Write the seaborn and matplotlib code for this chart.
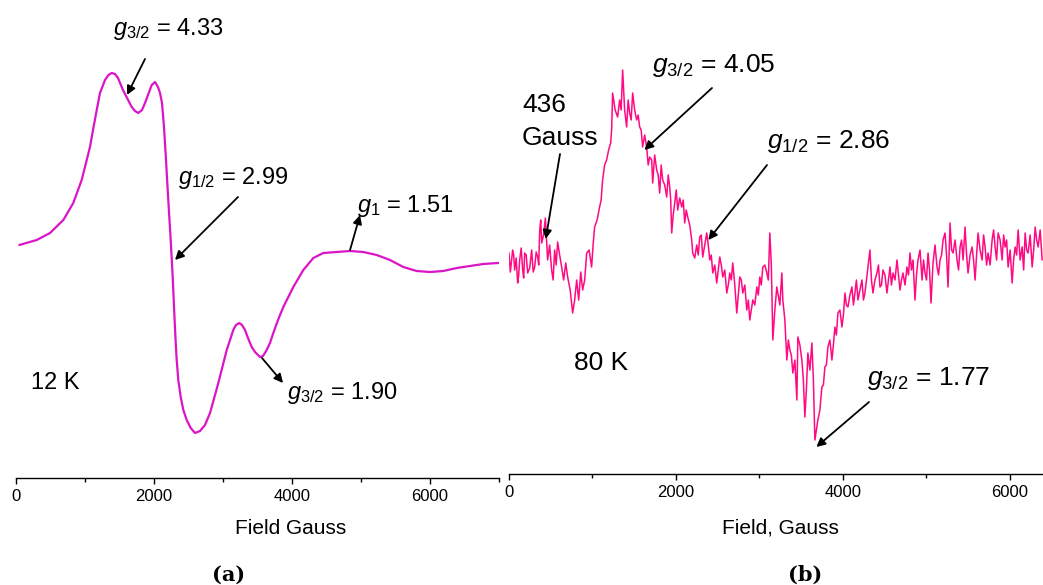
import matplotlib
matplotlib.use("Agg")
import matplotlib.pyplot as plt
import seaborn as sns
from matplotlib.ticker import MultipleLocator

# ---------------- data ----------------
# (a) 12 K spectrum: field (Gauss) and EPR signal (a.u.)
field_12K = [48, 300, 493, 686, 830, 952, 1014, 1072, 1116, 1170, 1217, 1290, 1340, 1387,
             1435, 1478, 1551, 1610, 1677, 1725, 1772, 1826, 1870, 1913, 1967, 2014, 2058,
             2087, 2116, 2145, 2174, 2207, 2242, 2271, 2294, 2315, 2329, 2352, 2387, 2425,
             2474, 2532, 2594, 2667, 2739, 2812, 2932, 3054, 3149, 3188, 3236, 3275, 3319,
             3362, 3416, 3464, 3536, 3580, 3633, 3681, 3729, 3797, 3874, 4019, 4164, 4309,
             4454, 4648, 4841, 5033, 5228, 5420, 5613, 5807, 6000, 6193, 6387, 6580, 6772,
             6990]
signal_12K = [5, 10, 17, 30, 47, 70, 87, 103, 120, 140, 157, 170, 175, 177,
              176, 172, 160, 152, 143, 139, 137, 140, 147, 155, 165, 168, 163,
              157, 147, 123, 90, 50, 10, -27, -63, -93, -110, -130, -147, -160,
              -170, -178, -183, -181, -175, -163, -133, -100, -80, -75, -73, -75, -80,
              -88, -97, -102, -107, -106, -100, -93, -83, -70, -57, -37, -20, -8,
              -3, -2, -1, -2, -5, -10, -17, -21, -22, -21, -18, -16, -14,
              -13]

# (b) 80 K spectrum: field (Gauss) and EPR signal (a.u.)
field_80K = [0, 16, 32, 44, 56, 68, 86, 104, 116, 128, 146, 164, 176, 188, 206, 224, 248,
             272, 290, 308, 326, 344, 356, 368, 380, 392, 414, 436, 450, 463, 487, 511,
             529, 547, 565, 583, 607, 631, 655, 680, 703, 733, 763, 787, 811, 835, 860,
             883, 907, 931, 960, 990, 1008, 1026, 1056, 1086, 1104, 1122, 1146, 1170,
             1194, 1218, 1230, 1242, 1272, 1302, 1326, 1344, 1362, 1386, 1410, 1428,
             1446, 1464, 1482, 1506, 1530, 1548, 1566, 1584, 1602, 1626, 1650, 1668,
             1686, 1710, 1722, 1746, 1770, 1788, 1806, 1824, 1842, 1866, 1890, 1908,
             1926, 1938, 1950, 1968, 1986, 2004, 2022, 2046, 2070, 2088, 2106, 2124,
             2142, 2166, 2190, 2202, 2226, 2250, 2268, 2286, 2304, 2322, 2346, 2370,
             2388, 2406, 2424, 2442, 2466, 2490, 2508, 2526, 2544, 2562, 2586, 2610,
             2628, 2646, 2664, 2682, 2706, 2730, 2748, 2766, 2784, 2802, 2826, 2850,
             2868, 2886, 2904, 2922, 2946, 2970, 2988, 3006, 3024, 3042, 3066, 3090,
             3108, 3126, 3144, 3162, 3186, 3210, 3222, 3246, 3270, 3282, 3306, 3330,
             3348, 3366, 3384, 3402, 3426, 3450, 3462, 3486, 3510, 3528, 3546, 3564,
             3582, 3606, 3630, 3648, 3666, 3684, 3702, 3726, 3750, 3768, 3786, 3804,
             3822, 3846, 3870, 3888, 3906, 3924, 3942, 3966, 3990, 4008, 4026, 4044,
             4062, 4086, 4110, 4128, 4146, 4164, 4182, 4206, 4230, 4248, 4266, 4284,
             4302, 4326, 4344, 4362, 4386, 4410, 4428, 4446, 4464, 4482, 4506, 4530,
             4548, 4566, 4584, 4602, 4626, 4650, 4668, 4686, 4704, 4722, 4746, 4770,
             4788, 4806, 4824, 4842, 4866, 4884, 4902, 4926, 4950, 4968, 4986, 5004,
             5022, 5040, 5058, 5082, 5106, 5130, 5148, 5166, 5184, 5202, 5226, 5244,
             5262, 5286, 5304, 5322, 5346, 5370, 5388, 5406, 5424, 5442, 5466, 5484,
             5502, 5526, 5550, 5568, 5586, 5604, 5622, 5646, 5670, 5688, 5706, 5724,
             5742, 5766, 5790, 5808, 5826, 5844, 5862, 5886, 5910, 5928, 5946, 5964,
             5982, 6006, 6030, 6048, 6066, 6084, 6102, 6126, 6150, 6168, 6186, 6204,
             6222, 6246, 6270, 6288, 6306, 6324, 6342, 6366, 6390]
signal_80K = [7, -12, 0, 10, 5, -10, 2, -23, -15, 0, 12, -10, -18, 7, 5, -13, -8,
              10, -12, -7, 8, 3, -5, 30, 40, 17, 25, 42, 20, 0, 15, -10,
              -20, 10, -5, 18, 5, -7, -20, -3, -17, -30, -53, -40, -20, -40, -12,
              -30, -20, 7, 10, -7, 15, 33, 40, 53, 60, 80, 95, 100,
              110, 117, 130, 167, 150, 143, 160, 150, 190, 150, 133, 160,
              147, 140, 167, 150, 140, 145, 133, 130, 113, 125, 113, 95,
              103, 100, 77, 105, 90, 85, 67, 95, 80, 75, 63, 85,
              73, 60, 27, 45, 57, 70, 50, 62, 53, 60, 37, 50,
              43, 35, 20, 7, 2, 15, 5, 23, 25, 3, 15, 27,
              15, 0, 5, -13, -5, -23, -10, 3, -5, -17, -10, -33,
              -25, -13, -20, -3, -25, -53, -35, -17, -20, -33, -25, -50,
              -40, -60, -50, -40, -45, -27, -35, -17, -25, -7, -5, -13,
              -20, 27, -5, -80, -50, -27, -33, -45, -13, -40, -60, -100,
              -80, -90, -95, -113, -100, -140, -77, -85, -100, -120, -157, -130,
              -93, -110, -83, -120, -180, -170, -160, -150, -127, -125, -107, -105,
              -87, -80, -100, -85, -67, -75, -53, -50, -67, -55, -33, -45,
              -47, -35, -27, -45, -33, -20, -40, -30, -20, -40, -33, -20,
              -7, 10, -20, -33, -20, -13, -5, -27, -25, -10, -15, -33,
              -20, -7, -25, -13, -20, 0, -15, -30, -20, -13, -25, -7,
              -15, 7, -10, 0, -40, -15, 0, 10, -20, 0, -13, -20,
              7, -10, -43, -3, 15, -7, -15, 0, 5, 20, 27, 5,
              -27, 37, 10, 7, 20, 0, -10, 13, 20, 0, 33, 5,
              -13, 5, 13, 0, -20, 5, 27, 10, 0, 25, 13, -5,
              7, -5, 20, 30, 13, 0, 27, 20, 0, 25, 13, 20,
              -7, 10, -23, 0, 13, 5, 30, 0, 13, -10, 27, 10,
              7, 25, -7, 10, 33, 20, 13, 30, 0]

xticks_major = [0, 2000, 4000, 6000]

# ---------------- figure ----------------
W, H = 1043, 585
sns.set_style("ticks")
plt.rcParams["font.family"] = ["Liberation Sans", "DejaVu Sans"]
plt.rcParams["mathtext.fontset"] = "custom"
plt.rcParams["mathtext.it"] = "Liberation Sans:italic"
plt.rcParams["mathtext.rm"] = "Liberation Sans"
plt.rcParams["text.color"] = "black"
plt.rcParams["axes.labelcolor"] = "black"
plt.rcParams["xtick.color"] = "black"
plt.rcParams["lines.solid_joinstyle"] = "round"

fig = plt.figure(figsize=(W / 100, H / 100), dpi=100)
fig.patch.set_facecolor("white")


def fx(px):
    return px / W


def fy(py):
    return 1 - py / H


ax_a = fig.add_axes([16 / W, (H - 478) / H, 483 / W, 478 / H])
ax_b = fig.add_axes([509 / W, (H - 473.5) / H, 534 / W, 473.5 / H])

sns.lineplot(x=field_12K, y=signal_12K, ax=ax_a, color="#DC14C8", linewidth=1.6,
             sort=False, estimator=None)
sns.lineplot(x=field_80K, y=signal_80K, ax=ax_b, color="#FF0A82", linewidth=1.1,
             sort=False, estimator=None)

ax_a.set_xlim(0, 7000)
ax_a.set_ylim(-228, 250)
ax_b.set_xlim(0, 6400)
ax_b.set_ylim(-213.5, 260)

for ax in (ax_a, ax_b):
    ax.set_facecolor("none")
    for s in ("left", "top", "right"):
        ax.spines[s].set_visible(False)
    ax.spines["bottom"].set_color("black")
    ax.spines["bottom"].set_linewidth(1.0)
    ax.set_yticks([])
    ax.set_ylabel("")
    ax.set_xticks(xticks_major)
    ax.set_xticklabels([str(t) for t in xticks_major])
    ax.xaxis.set_minor_locator(MultipleLocator(1000))
    ax.tick_params(axis="x", which="major", length=4, width=1.0, color="black",
                   direction="out", labelsize=12, pad=4, labelcolor="black")
    ax.tick_params(axis="x", which="minor", length=3, width=1.0, color="black",
                   direction="out")

ax_a.set_xlabel("Field Gauss", fontsize=15)
ax_a.xaxis.set_label_coords((291 - 16) / 483, -(519 - 478) / 478)
ax_b.set_xlabel("Field, Gauss", fontsize=15)
ax_b.xaxis.set_label_coords((780 - 509) / 534, -(519 - 473.5) / 473.5)

arrow = dict(arrowstyle="-|>", color="black", lw=1.3, mutation_scale=13,
             shrinkA=0, shrinkB=0)

# ---- panel (a) annotations ----
fs_a = 17
fig.text(fx(113), fy(35), r"$\mathit{g}_{\mathit{3/2}}$ = 4.33", fontsize=fs_a, va="baseline")
ax_a.annotate("", xy=(1609, 155), xycoords="data", xytext=(fx(145), fy(59)),
              textcoords="figure fraction", arrowprops=arrow)

fig.text(fx(178), fy(184), r"$\mathit{g}_{\mathit{1/2}}$ = 2.99", fontsize=fs_a, va="baseline")
ax_a.annotate("", xy=(2304, -10), xycoords="data", xytext=(fx(238), fy(197)),
              textcoords="figure fraction", arrowprops=arrow)

fig.text(fx(357), fy(212), r"$\mathit{g}_{\mathit{1}}$ = 1.51", fontsize=fs_a, va="baseline")
ax_a.annotate("", xy=(4986, 35), xycoords="data", xytext=(4841, 0),
              textcoords="data", arrowprops=arrow)

fig.text(fx(287), fy(399), r"$\mathit{g}_{\mathit{3/2}}$ = 1.90", fontsize=fs_a, va="baseline")
ax_a.annotate("", xy=(3870, -133), xycoords="data", xytext=(3565, -108),
              textcoords="data", arrowprops=arrow)

fig.text(fx(31), fy(389), "12 K", fontsize=fs_a, va="baseline")

# ---- panel (b) annotations ----
fs_b = 19
fig.text(fx(522), fy(112), "436", fontsize=fs_b, va="baseline")
fig.text(fx(522), fy(145), "Gauss", fontsize=fs_b, va="baseline")
ax_b.annotate("", xy=(440, 21), xycoords="data", xytext=(fx(560), fy(154)),
              textcoords="figure fraction", arrowprops=arrow)

fig.text(fx(652), fy(72), r"$\mathit{g}_{\mathit{3/2}}$ = 4.05", fontsize=fs_b, va="baseline")
ax_b.annotate("", xy=(1622, 110), xycoords="data", xytext=(fx(712), fy(88)),
              textcoords="figure fraction", arrowprops=arrow)

fig.text(fx(767), fy(148), r"$\mathit{g}_{\mathit{1/2}}$ = 2.86", fontsize=fs_b, va="baseline")
ax_b.annotate("", xy=(2389, 20), xycoords="data", xytext=(fx(767), fy(165)),
              textcoords="figure fraction", arrowprops=arrow)

fig.text(fx(574), fy(370), "80 K", fontsize=fs_b, va="baseline")

fig.text(fx(867), fy(385), r"$\mathit{g}_{\mathit{3/2}}$ = 1.77", fontsize=fs_b, va="baseline")
ax_b.annotate("", xy=(3683, -187), xycoords="data", xytext=(fx(869), fy(402)),
              textcoords="figure fraction", arrowprops=arrow)

# panel letters
fig.text(fx(229), fy(575), "(a)", fontsize=15, fontweight="bold", family="DejaVu Serif",
         ha="center", va="center")
fig.text(fx(805), fy(575), "(b)", fontsize=15, fontweight="bold", family="DejaVu Serif",
         ha="center", va="center")

fig.savefig("out.png", dpi=100, facecolor="white")
